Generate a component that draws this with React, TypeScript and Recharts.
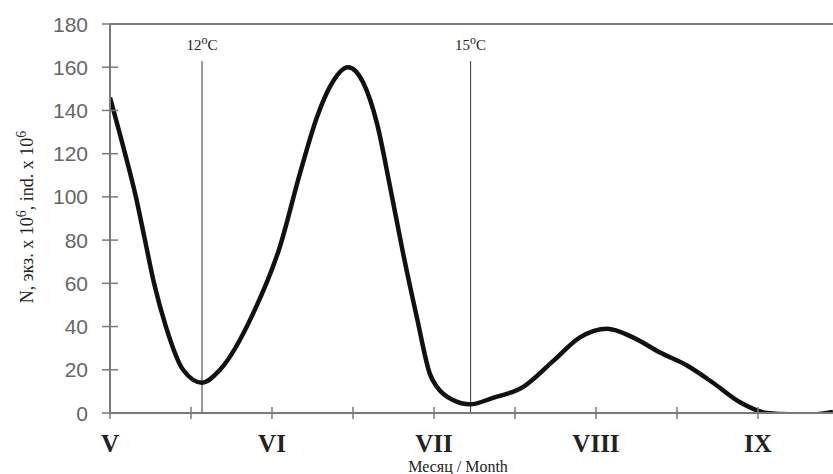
import React from 'react';
import { LineChart, Line, XAxis, YAxis, ReferenceLine, Label } from 'recharts';

// positions in months since start of May (V = 0)
const monthPos = [
  0, 0.093, 0.16, 0.216, 0.272, 0.345, 0.451, 0.568, 0.679, 0.883, 1.049,
  1.173, 1.278, 1.358, 1.469, 1.562, 1.648, 1.728, 1.809, 1.895, 1.975, 2.019,
  2.117, 2.222, 2.364, 2.549, 2.735, 2.901, 3.068, 3.228, 3.395, 3.562, 3.722,
  3.889, 4.056, 4.198, 4.34, 4.463,
];
const abundance = [
  146, 120, 100, 80, 60, 40, 20, 14, 20, 46, 77, 111, 137, 151, 160, 153,
  134, 105, 74, 44, 18, 12, 6, 4, 7, 12, 24, 35, 39, 35, 28, 22, 14, 5, 0, -0.6,
  -0.6, 0.5,
];

const monthLabels = ['V', 'VI', 'VII', 'VIII', 'IX'];
const xTicks = [0, 0.5, 1, 1.5, 2, 2.5, 3, 3.5, 4];
const yTicks = [0, 20, 40, 60, 80, 100, 120, 140, 160, 180];

const tempMarks = [
  { x: 0.568, label: '12' },
  { x: 2.226, label: '15' },
];

const data = monthPos.map((m, i) => ({ m, n: abundance[i] }));

const axisColor = '#7a7a7a';
const serif = '"Liberation Serif", "Times New Roman", serif';

const XTick = ({ x, y, payload }: any) => {
  const v = payload.value;
  const isMonth = Number.isInteger(v);
  return (
    <g>
      <line x1={x} x2={x} y1={y - 6} y2={y + 6} stroke={axisColor} strokeWidth={1.5} />
      {isMonth && (
        <text x={x} y={y + 39} textAnchor="middle" fontFamily={serif} fontWeight="bold" fontSize={25} fill="#222">
          {monthLabels[v]}
        </text>
      )}
    </g>
  );
};

const YTick = ({ x, y, payload }: any) => {
  const v = payload.value;
  return (
    <g>
      <line x1={x - 8} x2={v === 180 ? x : x + 8} y1={y} y2={y} stroke={axisColor} strokeWidth={1.5} />
      <text x={x - 22} y={y + 7.5} textAnchor="end" fontFamily='"Liberation Sans", Arial, sans-serif' fontSize={21} fill="#666">
        {v}
      </text>
    </g>
  );
};

const TempLabel = (label: string) => ({ viewBox }: any) => (
  <text x={viewBox.x} y={viewBox.y - 11} textAnchor="middle" fontFamily={serif} fontSize={15} fill="#222">
    {label}
    <tspan dy={-6} fontSize={12}>o</tspan>
    <tspan dy={6}>C</tspan>
  </text>
);

const YTitle = () => (
  <text transform="translate(33, 217) rotate(-90)" textAnchor="middle" fontFamily={serif} fontSize={18} fill="#222">
    N, экз. x 10<tspan dy={-7} fontSize={14}>6</tspan>
    <tspan dy={7}>, ind. x 10</tspan>
    <tspan dy={-7} fontSize={14}>6</tspan>
  </text>
);

const XTitle = () => (
  <text x={458} y={472} textAnchor="middle" fontFamily={serif} fontSize={16} fill="#222">
    Месяц / Month
  </text>
);

export default function App() {
  return (
    <div style={{ position: 'absolute', left: 0, top: 0, background: '#fff' }}>
      <LineChart width={833} height={474} data={data} margin={{ top: 24, right: 0, bottom: 0, left: 0 }}>
        <XAxis
          dataKey="m"
          type="number"
          domain={[0, 4.463]}
          ticks={xTicks}
          interval={0}
          height={61}
          tickLine={false}
          tickSize={0}
          tickMargin={0}
          axisLine={{ stroke: axisColor, strokeWidth: 2 }}
          tick={<XTick />}
          allowDataOverflow
        >
          <Label content={<XTitle />} />
        </XAxis>
        <YAxis
          type="number"
          domain={[0, 180]}
          ticks={yTicks}
          interval={0}
          width={110}
          tickLine={false}
          tickSize={0}
          tickMargin={0}
          axisLine={{ stroke: axisColor, strokeWidth: 2 }}
          tick={<YTick />}
          allowDataOverflow
        >
          <Label content={<YTitle />} />
        </YAxis>
        <ReferenceLine y={180} stroke={axisColor} strokeWidth={2} />
        {tempMarks.map((t) => (
          <ReferenceLine
            key={t.label}
            segment={[{ x: t.x, y: 0 }, { x: t.x, y: 162.8 }]}
            stroke="#333"
            strokeWidth={1}
            label={TempLabel(t.label)}
          />
        ))}
        <Line
          type="monotone"
          dataKey="n"
          stroke="#111"
          strokeWidth={4.5}
          dot={false}
          isAnimationActive={false}
        />
      </LineChart>
    </div>
  );
}
